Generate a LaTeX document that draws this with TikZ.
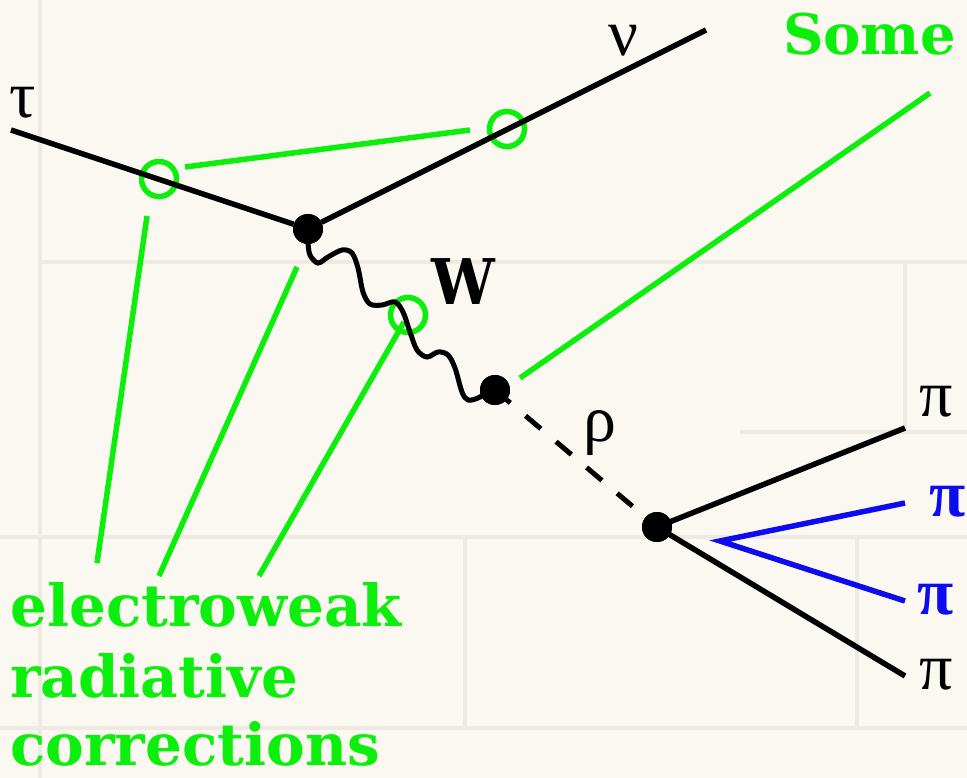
\documentclass[tikz,border=0pt]{standalone}
\usepackage{fontspec}
\newfontfamily\grk{Liberation Serif}
\newfontfamily\dvs{DejaVu Serif}
\definecolor{hgreen}{RGB}{12,238,12}
\definecolor{hblue}{RGB}{12,12,238}
\definecolor{cream}{RGB}{250,248,240}
\definecolor{mortar}{RGB}{238,234,226}
\tikzset{
  dot/.style={circle, fill=black, inner sep=0pt, minimum size=30pt},
  ring/.style={circle, draw=hgreen, line width=5.5pt, inner sep=0pt, minimum size=35pt},
  bline/.style={line width=5.5pt, black},
  gline/.style={line width=5.5pt, hgreen},
  pline/.style={line width=5.5pt, hblue},
  mline/.style={line width=4pt, mortar},
  glab/.style={inner sep=0pt, text=hgreen, font=\dvs\bfseries\fontsize{58}{58}\selectfont},
  greek/.style={inner sep=0pt, font=\grk\fontsize{66}{66}\selectfont},
}
\begin{document}
\begin{tikzpicture}[x=1pt,y=-1pt]
\useasboundingbox (0,0) rectangle (967,778);
\fill[cream] (0,0) rectangle (967,778);
% faint wall texture
\draw[mline] (40,262) -- (967,262);
\draw[mline] (740,432) -- (967,432);
\draw[mline] (0,537) -- (967,537);
\draw[mline] (0,728) -- (967,728);
\draw[mline] (905,262) -- (905,432);
\draw[mline] (40,0) -- (40,778);
\draw[mline] (465,537) -- (465,728);
\draw[mline] (857,537) -- (857,728);

% green rings
\node[ring] (C1) at (159,179) {};
\node[ring] (C2) at (507,129) {};
\node[ring] (C3) at (408,315) {};

% vertices
\node[dot] (V1) at (308,229) {};
\node[dot] (V2) at (495,390) {};
\node[dot] (V3) at (657,527) {};

% free ends
\coordinate (tauE) at (11,130);
\coordinate (nuE) at (706,30);
\coordinate (piA) at (905,428);
\coordinate (piD) at (905,676);
\coordinate (bA) at (720,541);
\coordinate (bB) at (905,503);
\coordinate (bC) at (905,601);
\coordinate (g1a) at (185,167);
\coordinate (g1b) at (470,130);
\coordinate (g2a) at (147,216);
\coordinate (g2b) at (97,563);
\coordinate (g3a) at (297,267);
\coordinate (g3b) at (159,576);
\coordinate (g4a) at (404,322);
\coordinate (g4b) at (259,576);
\coordinate (g5a) at (930,93);
\coordinate (g5b) at (520,378);

% green connectors
\draw[gline] (g1a) -- (g1b);
\draw[gline] (g2a) -- (g2b);
\draw[gline] (g3a) -- (g3b);
\draw[gline] (g4a) -- (g4b);
\draw[gline] (g5a) -- (g5b);

% particle lines
\draw[bline] (tauE) -- (V1);
\draw[bline] (V1) -- (nuE);
\draw[bline, line width=5pt] plot[smooth, tension=0.55] coordinates {
  (V1.center) (308,242) (310,255) (318,263) (328,257) (342,250) (352,253)
  (358,268) (363,292) (370,304) (382,305) (395,302) (403,312) (410,332)
  (417,350) (427,357) (438,352) (448,355) (455,368) (462,392) (468,400)
  (478,398) (488,392) (V2.center)};
\draw[bline, line width=5pt, dash pattern=on 20pt off 20pt] (V2.center) -- (V3.center);
\draw[bline] (V3.center) -- (piA);
\draw[bline] (V3.center) -- (piD);
\draw[pline] (bB) -- (bA) -- (bC);

% redraw dots on top
\fill (V1) circle (15pt);
\fill (V2) circle (15pt);
\fill (V3) circle (15pt);

% labels
\node[greek] (ltau) at (23,103) {τ};
\node[greek] (lnu) at (623,41) {ν};
\node[greek] (lrho) at (600,433) {ρ};
\node[greek] (lpi1) at (936,402) {π};
\node[greek, text=hblue, font=\grk\bfseries\fontsize{66}{66}\selectfont] (lpi2) at (948,502) {π};
\node[greek, text=hblue, font=\grk\bfseries\fontsize{66}{66}\selectfont] (lpi3) at (936,600) {π};
\node[greek] (lpi4) at (936,675) {π};
\node[inner sep=0pt, font=\dvs\bfseries\fontsize{63}{63}\selectfont, xscale=0.9] (lW) at (463,282) {W};

\node[glab, anchor=base west, font=\dvs\bfseries\fontsize{56}{56}\selectfont] (some) at (783,55) {Some};
\node[glab, anchor=base west] (ew1) at (10,626) {electroweak};
\node[glab, anchor=base west] (ew2) at (10,697) {radiative};
\node[glab, anchor=base west] (ew3) at (10,765) {corrections};
\end{tikzpicture}
\end{document}
